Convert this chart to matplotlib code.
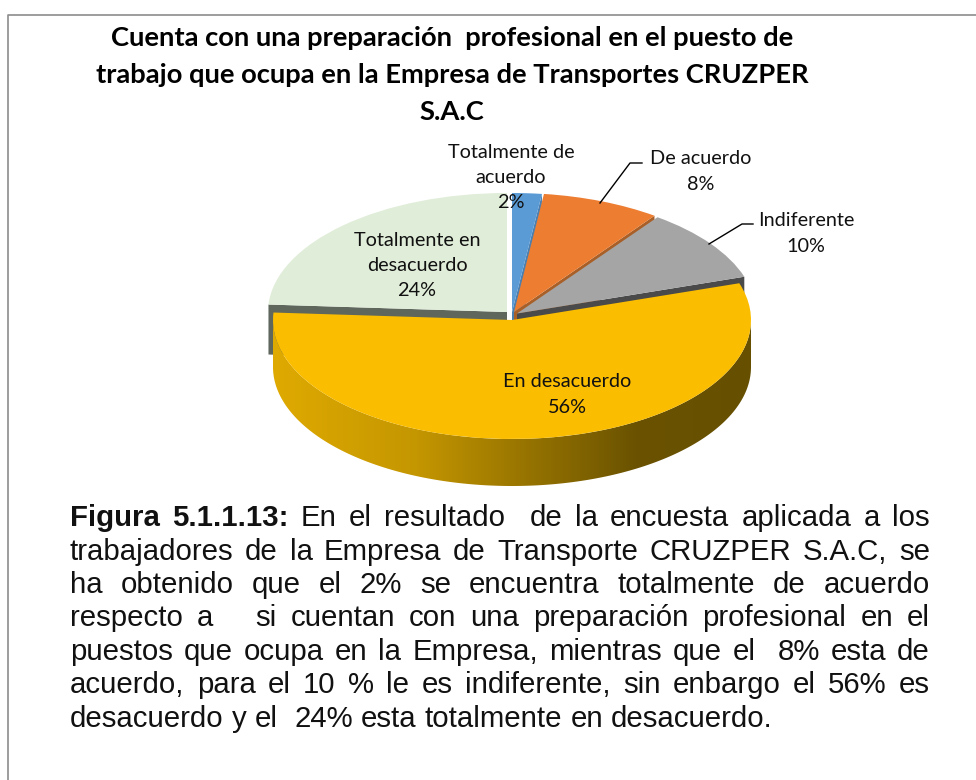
import matplotlib as mpl
mpl.use("Agg")
import matplotlib.pyplot as plt
from matplotlib.colors import LinearSegmentedColormap
from matplotlib.patches import Polygon
from matplotlib.transforms import Affine2D
import numpy as np

title_lines = ["Cuenta con una preparación  profesional en el puesto de",
               "trabajo que ocupa en la Empresa de Transportes CRUZPER",
               "S.A.C"]
categories = ["Totalmente de\nacuerdo", "De acuerdo", "Indiferente", "En desacuerdo", "Totalmente en\ndesacuerdo"]
values = [2, 8, 10, 56, 24]
colors = ["#5b9bd5", "#ed7d31", "#a5a5a5", "#fbbd00", "#e0edd8"]
wall_colors = ["#4a7fb0", "#a85f28", "#4a4a4a", "#fbbd00", "#5f665c"]

body_lines = ["En el resultado  de la encuesta aplicada a los",
              "trabajadores de la Empresa de Transporte CRUZPER S.A.C, se",
              "ha obtenido que el 2% se encuentra totalmente de acuerdo",
              "respecto a   si cuentan con una preparación profesional en el",
              "puestos que ocupa en la Empresa, mientras que el  8% esta de",
              "acuerdo, para el 10 % le es indiferente, sin enbargo el 56% es",
              "desacuerdo y el  24% esta totalmente en desacuerdo."]
body_y = [526, 560, 593, 626, 660, 693, 727]

rx, ry = 239, 119
depth = 47
# apex of each slice in pixels
apex = [(512, 312), (514, 312), (517, 313.5), (512, 320), (507, 312)]
label_pos = [(511, 177.5), (701, 171.5), (806, 233.5), (567, 394.5), (417, 265.5)]

fig = plt.figure(figsize=(9.76, 7.8), dpi=100, facecolor="white")
ax = fig.add_axes([0, 0, 1, 1])

wedges, _ = ax.pie(values, colors=colors, startangle=90, counterclock=False, radius=1)
ax.set_aspect("auto")

ends = np.cumsum(values) * 3.6
for i, w in enumerate(wedges):
    w.set_transform(Affine2D().scale(rx, -ry).translate(*apex[i]) + ax.transData)
    w.set_linewidth(0)
    w.set_zorder(2 + 2 * i)
    # side wall along the visible straight edge of the slice
    a = np.radians(ends[i] if i != 4 else ends[i - 1])
    px, py = apex[i]
    ex, ey = px + rx * np.sin(a), py - ry * np.cos(a)
    d = 50 if i == 4 else depth
    if i != 3:
        ax.add_patch(Polygon([(px, py), (ex, ey), (ex, ey + d), (px, py + d)],
                             facecolor=wall_colors[i], edgecolor="none", zorder=1 + 2 * i))

# rim of the big slice, lower half of the ellipse pushed down
px, py = apex[3]
t = np.radians(np.linspace(90, 270, 200))
top_x = px + rx * np.sin(t)
top_y = py - ry * np.cos(t)
rim = np.vstack([np.column_stack([top_x, top_y]),
                 np.column_stack([top_x[::-1], top_y[::-1] + depth])])
rim_patch = Polygon(rim, facecolor="none", edgecolor="none", transform=ax.transData)
ax.add_patch(rim_patch)
rim_cmap = LinearSegmentedColormap.from_list("rim", [(0, "#dfaa00"), (0.3, "#c49600"), (0.76, "#6a5200"), (1, "#665000")])
img = ax.imshow(np.linspace(0, 1, 256)[None, :], cmap=rim_cmap, aspect="auto",
                extent=(px - rx, px + rx, py + ry + depth, py - 10), zorder=10.5)
img.set_clip_path(rim_patch)
wedges[3].set_zorder(11)

ax.set_xlim(0, 976)
ax.set_ylim(780, 0)
ax.axis("off")

# frame of the page
ax.plot([8, 8, 976], [780, 14.5, 14.5], color="#8c8c8c", lw=1.2, zorder=1, clip_on=False)

# leader lines
ax.plot([600, 630, 642], [203, 163, 163], color="black", lw=1, zorder=12)
ax.plot([709, 742, 753], [244, 224, 224], color="black", lw=1, zorder=12)

for name, v, (x, y) in zip(categories, values, label_pos):
    ax.text(x, y, "{}\n{}%".format(name, v), ha="center", va="center", fontsize=14.3,
            family="Lato", color="#111111", linespacing=1.58, zorder=13)

for line, y in zip(title_lines, [38, 75, 112]):
    ax.text(452, y, line, ha="center", va="center", fontsize=19.7, family="Lato",
            weight="bold", color="black")

# body text, justified word by word
fig.canvas.draw()
rend = fig.canvas.get_renderer()
left, right = 70, 930
fs = 21.2

def place(words, y, justify):
    arts = []
    for w, bold in words:
        arts.append(ax.text(0, y, w, fontsize=fs, family="Liberation Sans", va="baseline",
                            weight="bold" if bold else "normal", color="#111111", zorder=13))
    widths = [a.get_window_extent(rend).width if a.get_text() else 0 for a in arts]
    space = fs * 100 / 72 * 0.278
    if justify:
        space = (right - left - sum(widths)) / (len(arts) - 1)
    x = left
    for a, wd in zip(arts, widths):
        a.set_x(x)
        x += wd + space

for i, (line, y) in enumerate(zip(body_lines, body_y)):
    words = [(w, False) for w in line.split(" ")]
    if i == 0:
        words = [("Figura", True), ("5.1.1.13:", True)] + words
    place(words, y, i < len(body_lines) - 1)

fig.savefig("out.png", dpi=100, facecolor="white")
